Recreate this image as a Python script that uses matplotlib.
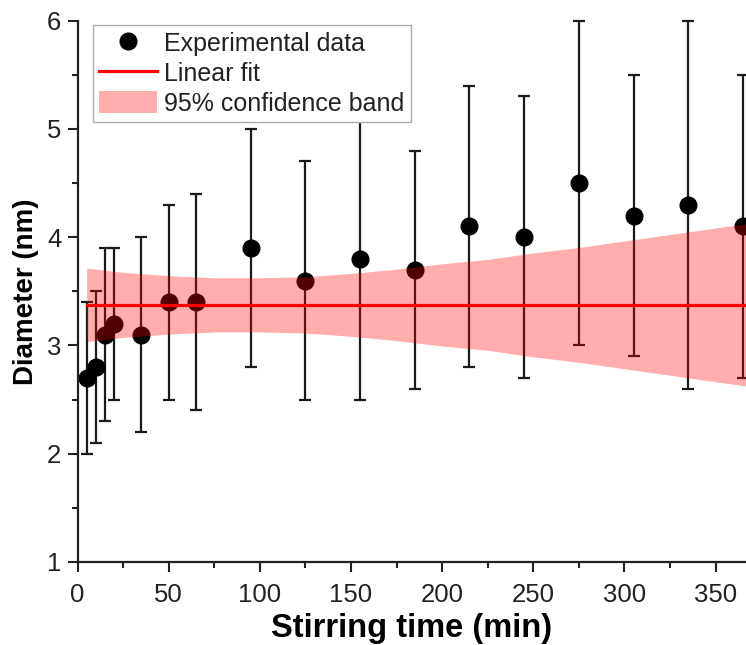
import numpy as np
import matplotlib
matplotlib.use("Agg")
import matplotlib.pyplot as plt
from matplotlib.ticker import MultipleLocator
from matplotlib.lines import Line2D
from matplotlib.patches import Patch

plt.rcParams['font.family'] = ['Liberation Sans', 'DejaVu Sans']

# Measured particle diameters vs. stirring time
time_min = [5, 10, 15, 20, 35, 50, 65, 95, 125, 155, 185, 215, 245, 275, 305, 335, 365]
diameter_nm = [2.7, 2.8, 3.1, 3.2, 3.1, 3.4, 3.4, 3.9, 3.6, 3.8, 3.7, 4.1, 4.0, 4.5, 4.2, 4.3, 4.1]
diameter_err = [0.7, 0.7, 0.8, 0.7, 0.9, 0.9, 1.0, 1.1, 1.1, 1.3, 1.1, 1.3, 1.3, 1.5, 1.3, 1.7, 1.4]

# Linear fit result and its 95% confidence band (half-width along time)
fit_intercept = 3.375
fit_slope = 0.0
band_time = [5, 25, 50, 75, 100, 125, 150, 175, 200, 225, 250, 275, 300, 325, 350, 367]
band_halfwidth = [0.34, 0.30, 0.27, 0.25, 0.25, 0.26, 0.29, 0.33, 0.38, 0.42, 0.48, 0.53, 0.59, 0.65, 0.71, 0.75]

fig = plt.figure(figsize=(7.46, 6.45), dpi=100)
ax = fig.add_axes([0.1039, 0.1287, 0.8961, 0.8392])

ax.errorbar(time_min, diameter_nm, yerr=diameter_err, fmt='o', color='black',
            ecolor='#1a1a1a', elinewidth=1.6, capsize=4.5, capthick=1.6,
            markersize=12, zorder=2, clip_on=False)

bt = np.array(band_time, dtype=float)
hw = np.array(band_halfwidth)
fit_line = fit_intercept + fit_slope * bt
ax.fill_between(bt, fit_line - hw, fit_line + hw, color='red', alpha=0.32,
                linewidth=0, zorder=3)
ax.plot(bt, fit_line, color='red', linewidth=2.3, zorder=4)

ax.set_xlim(0, 366.7)
ax.set_ylim(1, 6)
ax.xaxis.set_major_locator(MultipleLocator(50))
ax.xaxis.set_minor_locator(MultipleLocator(25))
ax.yaxis.set_major_locator(MultipleLocator(1))
ax.yaxis.set_minor_locator(MultipleLocator(0.5))

for s in ['top', 'right']:
    ax.spines[s].set_visible(False)
for s in ['left', 'bottom']:
    ax.spines[s].set_linewidth(1.6)
    ax.spines[s].set_color('#222222')

ax.tick_params(which='major', direction='out', length=7.2, width=1.5,
               labelsize=18.5, color='#222222', labelcolor='#222222')
ax.tick_params(which='minor', direction='out', length=4, width=1.5, color='#222222')
ax.tick_params(axis='x', which='major', pad=8)
ax.tick_params(axis='y', which='major', pad=4.5)

ax.set_xlabel('Stirring time (min)', fontsize=23.5, fontweight='bold', labelpad=4)
ax.set_ylabel('Diameter (nm)', fontsize=20, fontweight='bold', labelpad=6)

legend_handles = [
    Line2D([], [], linestyle='none', marker='o', color='black', markersize=12),
    Line2D([], [], color='red', linewidth=2.3),
    Patch(facecolor='red', alpha=0.32, linewidth=0),
]
legend_labels = ['Experimental data', 'Linear fit', '95% confidence band']
leg = ax.legend(legend_handles, legend_labels,
                loc='upper left', bbox_to_anchor=(0.023, 0.992), borderaxespad=0,
                fontsize=18, frameon=True, fancybox=False, framealpha=1,
                edgecolor='#aaaaaa', handlelength=2.3, handleheight=1.0,
                handletextpad=0.3, labelspacing=0.2, borderpad=0.25)
leg.get_frame().set_linewidth(1.0)
for t in leg.get_texts():
    t.set_color('#222222')

fig.savefig('out.png', dpi=100)
